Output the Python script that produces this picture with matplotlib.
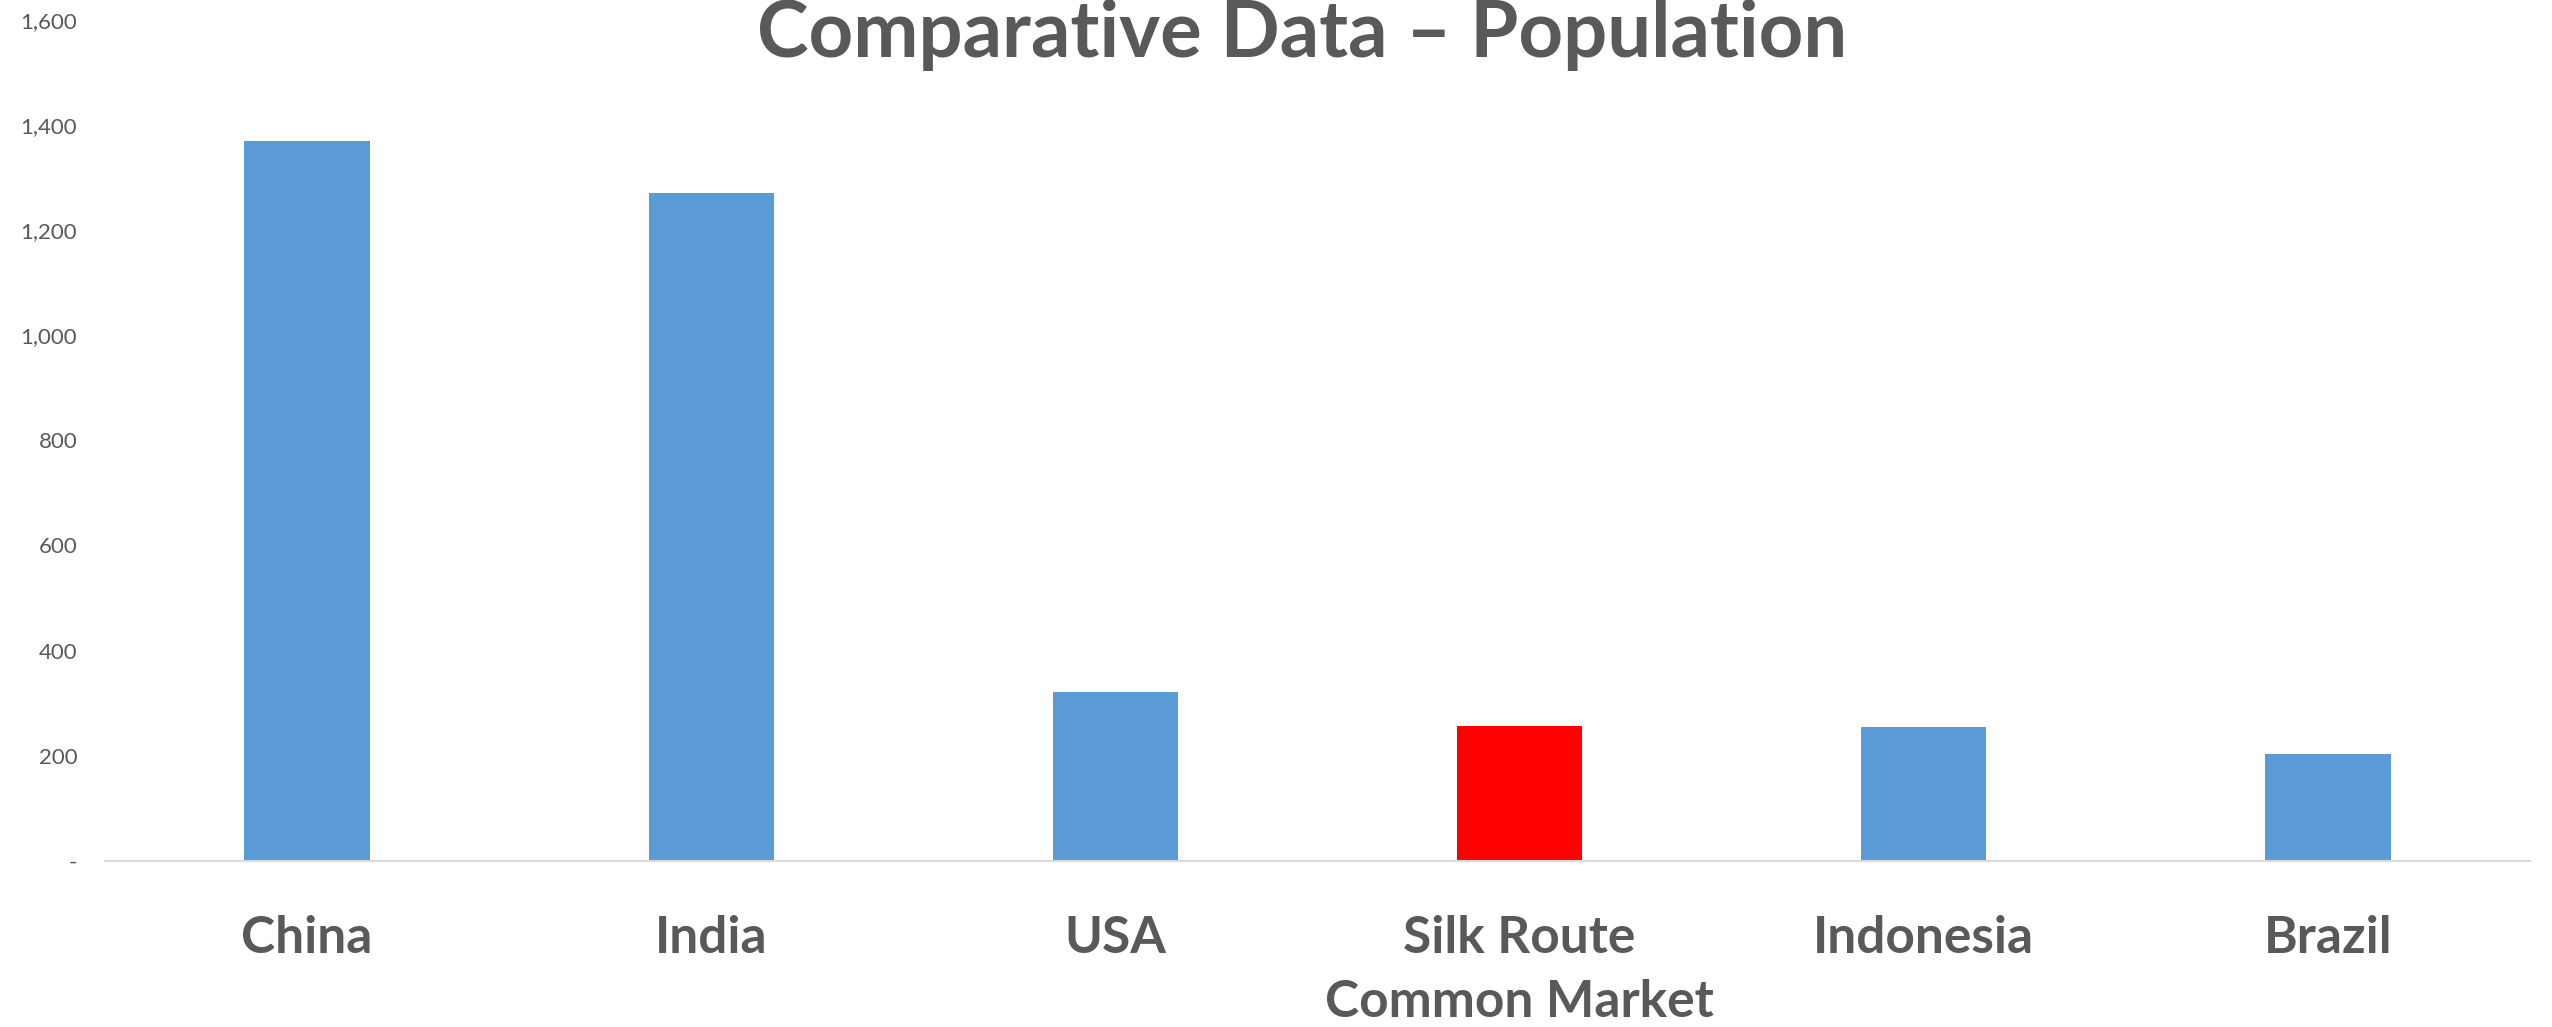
import matplotlib.pyplot as plt
from matplotlib.ticker import FuncFormatter, MultipleLocator

# population in millions
countries = ['China', 'India', 'USA', 'Silk Route\nCommon Market', 'Indonesia', 'Brazil']
population = [1369, 1270, 321, 257, 255, 204]
bar_colors = ['#5B9BD5', '#5B9BD5', '#5B9BD5', '#FF0000', '#5B9BD5', '#5B9BD5']

txt_color = '#595959'
plt.rcParams['font.family'] = ['Lato', 'DejaVu Sans']

fig = plt.figure(figsize=(25.52, 10.27), dpi=100)
ax = fig.add_axes([105/2552, 1 - 861/1027, 2425/2552, (861 - 19.6)/1027])

xs = list(range(len(countries)))
ax.bar(xs, population, width=0.31, color=bar_colors, zorder=2)

ax.set_xlim(-0.5, len(countries) - 0.5)
ax.set_ylim(0, 1600)
ax.yaxis.set_major_locator(MultipleLocator(200))
ax.yaxis.set_major_formatter(FuncFormatter(lambda v, p: '-' if v == 0 else '{:,.0f}'.format(v)))

ax.set_xticks(xs)
ax.set_xticklabels(countries, fontsize=37, fontweight='bold', color=txt_color)
for lbl in ax.get_xticklabels():
    lbl.set_linespacing(1.45)
ax.tick_params(axis='x', length=0, pad=39)
ax.tick_params(axis='y', length=0, pad=20, labelsize=16, labelcolor=txt_color)

for s in ['top', 'right', 'left']:
    ax.spines[s].set_visible(False)
ax.spines['bottom'].set_color('#D9D9D9')
ax.spines['bottom'].set_linewidth(1.5)

fig.text(1302/2552, 1 - 57/1027, 'Comparative Data \u2013 Population', ha='center', va='baseline',
         fontsize=56, fontweight='bold', color=txt_color)

fig.savefig('out.png', dpi=100)
